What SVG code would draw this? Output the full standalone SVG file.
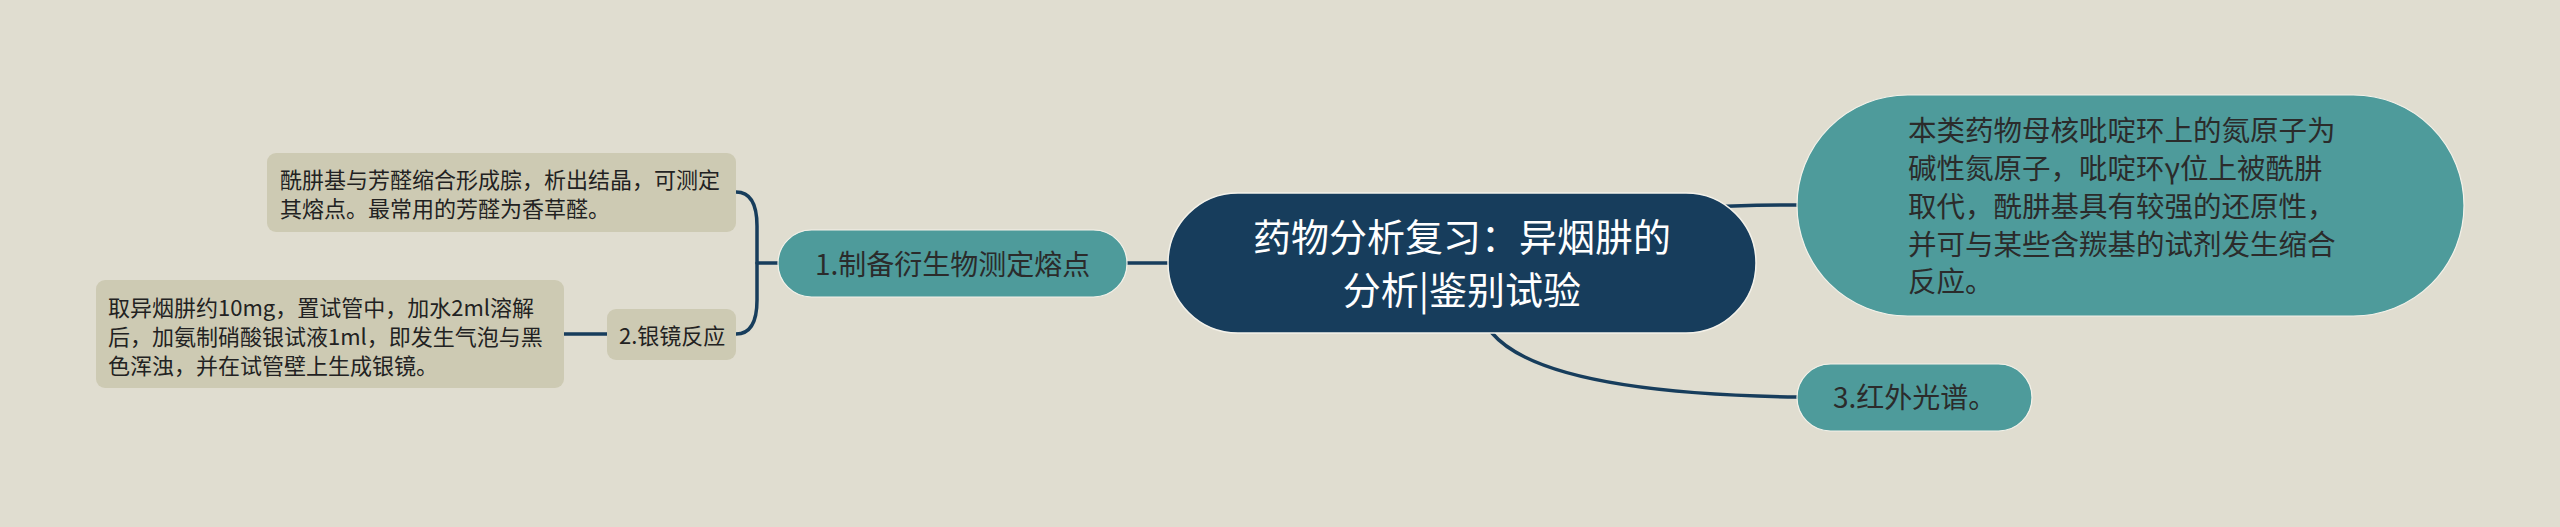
<svg xmlns="http://www.w3.org/2000/svg" width="2560" height="527" viewBox="0 0 2560 527">
<style>
text { font-family: "Noto Sans CJK SC", "Noto Sans", sans-serif; }
.conn { fill: none; stroke: #173d5c; stroke-width: 3.5; stroke-linecap: round; }
.root { fill: #173d5c; stroke: #f4f2ea; stroke-width: 1.5; }
.main { fill: #4e9b9b; stroke: #f4f2ea; stroke-width: 1.2; }
.leaf { fill: #cdcab3; }
.t-root { fill: #ffffff; font-size: 38px; text-anchor: middle; }
.t-main { fill: #2b2b2b; font-size: 28px; }
.t-big { fill: #2b2b2b; font-size: 28.5px; }
.t-leaf { fill: #222222; font-size: 22px; }
</style>
<rect x="0" y="0" width="2560" height="527" fill="#e0ddd0"/>
<g id="connectors">
<path class="conn" d="M1127,263 H1180"/>
<path class="conn" d="M1690,208 Q1740,205 1797,205"/>
<path class="conn" d="M1476,312 L1492,333 C1515,360 1580,394 1798,397"/>
<path class="conn" d="M757,263 H790"/>
<path class="conn" d="M736,192 Q757,192 757,226 L757,300 Q757,334 736,334"/>
<path class="conn" d="M564,334 H610"/>
</g>
<g id="root">
<rect class="root" x="1168" y="193" width="588" height="140" rx="70" ry="70"/>
<text class="t-root" x="1462" y="251">药物分析复习：异烟肼的</text>
<text class="t-root" x="1462" y="304">分析|鉴别试验</text>
</g>
<g id="node-property">
<rect class="main" x="1797" y="95" width="667" height="221" rx="110.5" ry="110.5"/>
<text class="t-big" x="1908" y="141">本类药物母核吡啶环上的氮原子为</text>
<text class="t-big" x="1908" y="179">碱性氮原子，吡啶环γ位上被酰肼</text>
<text class="t-big" x="1908" y="217">取代，酰肼基具有较强的还原性，</text>
<text class="t-big" x="1908" y="255">并可与某些含羰基的试剂发生缩合</text>
<text class="t-big" x="1908" y="292">反应。</text>
</g>
<g id="node-ir">
<rect class="main" x="1797" y="364" width="235" height="67" rx="33.5" ry="33.5"/>
<text class="t-main" x="1833" y="408">3.红外光谱。</text>
</g>
<g id="node-derivative">
<rect class="main" x="778" y="230" width="349" height="67" rx="33.5" ry="33.5"/>
<text class="t-main" x="815" y="275">1.制备衍生物测定熔点</text>
</g>
<g id="leaf-hydrazone">
<rect class="leaf" x="267" y="153" width="469" height="79" rx="9" ry="9"/>
<text class="t-leaf" x="280" y="188">酰肼基与芳醛缩合形成腙，析出结晶，可测定</text>
<text class="t-leaf" x="280" y="217">其熔点。最常用的芳醛为香草醛。</text>
</g>
<g id="node-silver">
<rect class="leaf" x="607" y="309" width="129" height="51" rx="9" ry="9"/>
<text class="t-leaf" x="619" y="344">2.银镜反应</text>
</g>
<g id="leaf-silver">
<rect class="leaf" x="96" y="280" width="468" height="108" rx="9" ry="9"/>
<text class="t-leaf" x="108" y="316">取异烟肼约10mg，置试管中，加水2ml溶解</text>
<text class="t-leaf" x="108" y="345">后，加氨制硝酸银试液1ml，即发生气泡与黑</text>
<text class="t-leaf" x="108" y="374">色浑浊，并在试管壁上生成银镜。</text>
</g>
</svg>
